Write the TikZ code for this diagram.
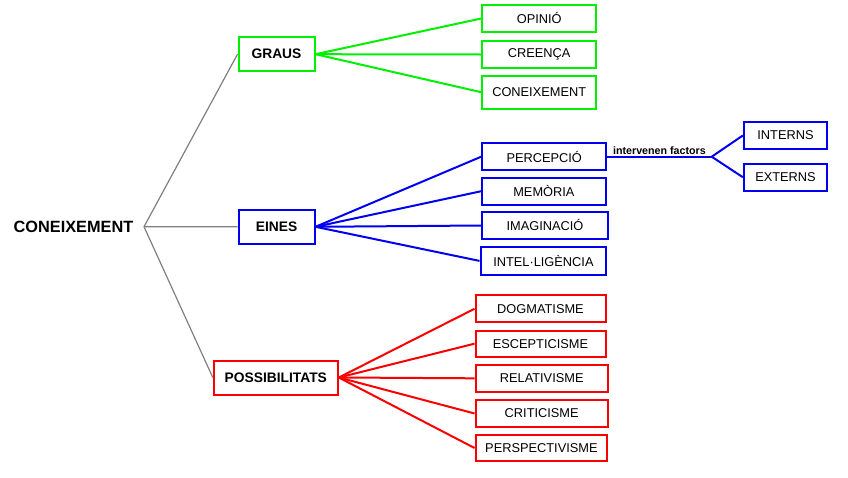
\documentclass[tikz,border=0pt]{standalone}
\usepackage{fontspec}
\setmainfont{Liberation Sans}
\definecolor{verd}{RGB}{0,240,0}
\definecolor{blau}{RGB}{0,0,240}
\definecolor{vermell}{RGB}{250,0,0}

\begin{document}
\begin{tikzpicture}[x=1pt, y=-1pt,
		caixa/.style={draw=#1, line width=2pt, inner sep=0pt, font=\fontsize{12.8}{15}\selectfont},
		tema/.style={draw=#1, line width=2pt, inner sep=0pt, font=\fontsize{13.8}{16}\selectfont\bfseries},
		branca/.style={draw=#1, line width=2pt},
		tronc/.style={draw=gray, line width=1.2pt}]
		\useasboundingbox (0,0) rectangle (848,477);
		
		% Arrel
		\node[font=\fontsize{16.3}{19}\selectfont\bfseries] (arrel) at (73.5,227) {CONEIXEMENT};
		\coordinate (nus) at (144,226.7);
		
		% Temes
		\node[tema=verd, minimum width=76, minimum height=34] (graus) at (276.5,54.2) {GRAUS};
		\node[tema=blau, minimum width=76, minimum height=34] (eines) at (276.5,226.8) {EINES};
		\node[tema=vermell, minimum width=124, minimum height=34] (possibilitats) at (275.8,377.5) {POSSIBILITATS};
		
		\draw[tronc] (graus.west) -- (nus) -- (possibilitats.west);
		\draw[tronc] (nus) -- (eines.west);
		
		% Graus
		\node[caixa=verd, minimum width=114, minimum height=26.6] (opinio) at (539.2,18.5) {OPINIÓ};
		\node[caixa=verd, minimum width=114, minimum height=26.6] (creenca) at (539.2,54.5) {CREENÇA};
		\node[caixa=verd, minimum width=114, minimum height=33.3] (coneixement) at (539.2,92.2) {CONEIXEMENT};
		\draw[branca=verd] (graus.east) -- (opinio.west);
		\draw[branca=verd] (graus.east) -- (creenca.west);
		\draw[branca=verd] (graus.east) -- (coneixement.west);
		
		% Eines
		\node[caixa=blau, minimum width=124, minimum height=27] (percepcio) at (544.2,156.7) {PERCEPCIÓ};
		\node[caixa=blau, minimum width=123.3, minimum height=26.7] (memoria) at (543.9,191.2) {MEMÒRIA};
		\node[caixa=blau, minimum width=125.6, minimum height=26.6] (imaginacio) at (545,225.5) {IMAGINACIÓ};
		\node[caixa=blau, minimum width=125.7, minimum height=27.3] (intelligencia) at (543.4,260.9) {INTEL·LIGÈNCIA};
		\draw[branca=blau] (eines.east) -- (percepcio.west);
		\draw[branca=blau] (eines.east) -- (memoria.west);
		\draw[branca=blau] (eines.east) -- (imaginacio.west);
		\draw[branca=blau] (eines.east) -- (intelligencia.west);
		
		\node[caixa=blau, minimum width=83.4, minimum height=26.6] (interns) at (785.5,135.5) {INTERNS};
		\node[caixa=blau, minimum width=83.4, minimum height=26.7] (externs) at (785.5,177.2) {EXTERNS};
		\coordinate (factors) at (711.7,156.7);
		\draw[branca=blau] (percepcio.east) -- node[above, inner sep=1.5pt, text=black, font=\fontsize{10.7}{12}\selectfont\bfseries] {intervenen factors} (factors);
		\draw[branca=blau] (factors) -- (interns.west);
		\draw[branca=blau] (factors) -- (externs.west);
		
		% Possibilitats
		\node[caixa=vermell, minimum width=130, minimum height=26.7] (dogmatisme) at (540.5,308.8) {DOGMATISME};
		\node[caixa=vermell, minimum width=130, minimum height=26.3] (escepticisme) at (540.5,343.7) {ESCEPTICISME};
		\node[caixa=vermell, minimum width=132.3, minimum height=27] (relativisme) at (541.7,378.3) {RELATIVISME};
		\node[caixa=vermell, minimum width=132.3, minimum height=27.4] (criticisme) at (541.7,413.5) {CRITICISME};
		\node[caixa=vermell, minimum width=131.7, minimum height=26.4] (perspectivisme) at (541.4,448) {PERSPECTIVISME};
		\draw[branca=vermell] (possibilitats.east) -- (dogmatisme.west);
		\draw[branca=vermell] (possibilitats.east) -- (escepticisme.west);
		\draw[branca=vermell] (possibilitats.east) -- (relativisme.west);
		\draw[branca=vermell] (possibilitats.east) -- (criticisme.west);
		\draw[branca=vermell] (possibilitats.east) -- (perspectivisme.west);
\end{tikzpicture}
\end{document}
